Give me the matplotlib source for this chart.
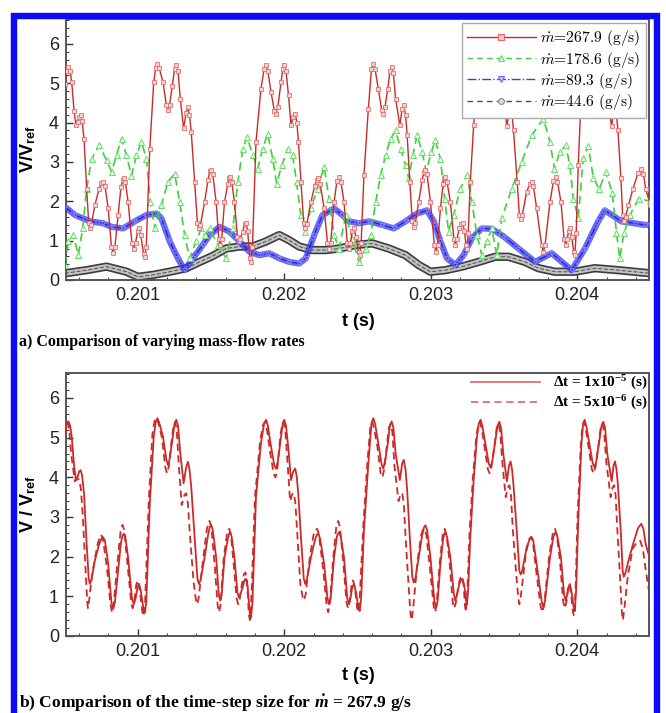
import matplotlib
matplotlib.use("Agg")
import matplotlib.pyplot as plt
from matplotlib.lines import Line2D
from matplotlib.patches import Rectangle
from matplotlib.ticker import MultipleLocator

plt.rcParams['mathtext.fontset'] = 'custom'
plt.rcParams['mathtext.rm'] = 'Liberation Serif'
plt.rcParams['mathtext.it'] = 'Liberation Serif:italic'
plt.rcParams['mathtext.bf'] = 'Liberation Serif:bold'
plt.rcParams['mathtext.bfit'] = 'Liberation Serif:bold:italic'
plt.rcParams['mathtext.sf'] = 'Liberation Sans:bold'

# ---------------- data: (t [s], V/Vref) ----------------
m267 = [
    (0.200503, 4.99), (0.200514, 5.30), (0.200526, 5.41), (0.200538, 5.30), (0.200549, 5.03),
    (0.200565, 4.30), (0.200578, 3.93), (0.200590, 4.02), (0.200600, 4.15), (0.200610, 4.18),
    (0.200620, 4.05), (0.200633, 3.59), (0.200651, 2.32), (0.200665, 1.45), (0.200673, 1.31),
    (0.200683, 1.40), (0.200707, 1.90), (0.200735, 2.30), (0.200752, 2.46), (0.200764, 2.49),
    (0.200776, 2.40), (0.200798, 1.82), (0.200820, 0.85), (0.200832, 0.68), (0.200844, 0.85),
    (0.200866, 1.65), (0.200885, 2.35), (0.200897, 2.54), (0.200905, 2.58), (0.200915, 2.50),
    (0.200934, 1.98), (0.200960, 0.95), (0.200973, 0.80), (0.200985, 0.95), (0.201000, 1.25),
    (0.201009, 1.31), (0.201020, 1.15), (0.201040, 0.66), (0.201048, 0.59), (0.201058, 0.85),
    (0.201082, 3.34), (0.201109, 5.03), (0.201122, 5.38), (0.201134, 5.49), (0.201146, 5.38),
    (0.201172, 5.03), (0.201195, 4.45), (0.201206, 4.31), (0.201217, 4.45), (0.201236, 4.94),
    (0.201251, 5.35), (0.201263, 5.45), (0.201275, 5.30), (0.201290, 4.61), (0.201313, 3.85),
    (0.201330, 4.25), (0.201342, 4.39), (0.201353, 4.20), (0.201365, 3.76), (0.201388, 2.49),
    (0.201407, 1.45), (0.201417, 1.31), (0.201428, 1.40), (0.201456, 1.98), (0.201480, 2.55),
    (0.201492, 2.76), (0.201501, 2.80), (0.201512, 2.68), (0.201535, 1.98), (0.201553, 1.05),
    (0.201563, 0.89), (0.201573, 1.05), (0.201592, 1.98), (0.201615, 2.45), (0.201623, 2.58),
    (0.201631, 2.62), (0.201641, 2.50), (0.201660, 1.98), (0.201680, 1.10), (0.201689, 0.98),
    (0.201700, 1.05), (0.201716, 1.23), (0.201730, 1.42), (0.201739, 1.44), (0.201750, 1.25),
    (0.201765, 0.55), (0.201773, 0.46), (0.201783, 0.85), (0.201807, 3.51), (0.201841, 4.86),
    (0.201862, 5.35), (0.201876, 5.45), (0.201888, 5.30), (0.201910, 4.77), (0.201932, 4.30),
    (0.201944, 4.22), (0.201956, 4.40), (0.201978, 5.03), (0.201990, 5.36), (0.202000, 5.45),
    (0.202012, 5.30), (0.202029, 4.69), (0.202046, 3.93), (0.202062, 4.15), (0.202075, 4.22),
    (0.202086, 4.00), (0.202097, 3.51), (0.202114, 2.49), (0.202133, 1.45), (0.202143, 1.31),
    (0.202154, 1.42), (0.202182, 1.98), (0.202208, 2.40), (0.202222, 2.55), (0.202233, 2.58),
    (0.202245, 2.45), (0.202272, 1.82), (0.202295, 0.95), (0.202306, 0.80), (0.202317, 0.95),
    (0.202340, 1.98), (0.202360, 2.52), (0.202374, 2.62), (0.202386, 2.50), (0.202408, 1.98),
    (0.202430, 0.95), (0.202442, 0.80), (0.202452, 0.95), (0.202465, 1.25), (0.202476, 1.31),
    (0.202490, 1.10), (0.202507, 0.70), (0.202515, 0.63), (0.202525, 0.95), (0.202544, 2.66),
    (0.202574, 4.35), (0.202595, 5.35), (0.202608, 5.49), (0.202620, 5.35), (0.202642, 4.86),
    (0.202665, 4.32), (0.202676, 4.22), (0.202688, 4.40), (0.202707, 4.86), (0.202721, 5.30),
    (0.202733, 5.41), (0.202745, 5.25), (0.202760, 4.61), (0.202789, 3.93), (0.202805, 4.35),
    (0.202816, 4.44), (0.202828, 4.20), (0.202839, 3.68), (0.202857, 2.49), (0.202874, 1.50),
    (0.202884, 1.35), (0.202895, 1.45), (0.202918, 1.98), (0.202942, 2.55), (0.202954, 2.74),
    (0.202964, 2.79), (0.202975, 2.68), (0.202998, 1.98), (0.203025, 0.88), (0.203036, 0.72),
    (0.203047, 0.88), (0.203066, 1.82), (0.203085, 2.45), (0.203093, 2.58), (0.203100, 2.62),
    (0.203111, 2.50), (0.203134, 1.98), (0.203158, 1.05), (0.203168, 0.89), (0.203180, 1.05),
    (0.203195, 1.31), (0.203208, 1.42), (0.203218, 1.44), (0.203230, 1.25), (0.203240, 0.90),
    (0.203247, 0.80), (0.203256, 1.20), (0.203270, 2.49), (0.203293, 3.93), (0.203315, 5.00),
    (0.203328, 5.35), (0.203340, 5.45), (0.203352, 5.30), (0.203375, 4.80), (0.203396, 4.35),
    (0.203408, 4.25), (0.203420, 4.40), (0.203440, 4.90), (0.203456, 5.30), (0.203468, 5.40),
    (0.203480, 5.25), (0.203495, 4.60), (0.203520, 3.90), (0.203535, 4.30), (0.203545, 4.40),
    (0.203555, 4.20), (0.203565, 3.80), (0.203590, 2.50), (0.203605, 1.65), (0.203614, 1.55),
    (0.203625, 1.65), (0.203655, 2.24), (0.203677, 2.45), (0.203689, 2.49), (0.203700, 2.40),
    (0.203723, 1.82), (0.203757, 0.88), (0.203769, 0.72), (0.203780, 0.88), (0.203814, 1.98),
    (0.203838, 2.52), (0.203853, 2.62), (0.203865, 2.50), (0.203889, 1.98), (0.203910, 1.05),
    (0.203921, 0.89), (0.203932, 1.05), (0.203942, 1.25), (0.203950, 1.31), (0.203962, 1.10),
    (0.203976, 0.72), (0.203984, 0.63), (0.203993, 1.20), (0.204007, 2.92), (0.204029, 4.86),
    (0.204040, 5.32), (0.204050, 5.45), (0.204062, 5.30), (0.204085, 4.80), (0.204106, 4.35),
    (0.204118, 4.25), (0.204130, 4.40), (0.204150, 4.90), (0.204166, 5.30), (0.204178, 5.40),
    (0.204190, 5.25), (0.204205, 4.60), (0.204235, 3.90), (0.204248, 4.30), (0.204258, 4.40),
    (0.204268, 4.20), (0.204278, 3.80), (0.204298, 2.60), (0.204310, 1.65), (0.204318, 1.49),
    (0.204330, 1.60), (0.204350, 1.90), (0.204381, 2.32), (0.204415, 2.72), (0.204437, 2.83),
    (0.204452, 2.70), (0.204467, 2.32), (0.204500, 1.90),
]

m178 = [
    (0.200503, 0.38), (0.200526, 0.98), (0.200560, 1.14), (0.200594, 0.63), (0.200624, 1.31),
    (0.200651, 2.32), (0.200685, 3.08), (0.200737, 3.42), (0.200787, 3.04), (0.200821, 2.75),
    (0.200855, 3.17), (0.200889, 3.59), (0.200923, 3.17), (0.200957, 2.65), (0.200991, 3.17),
    (0.201025, 3.51), (0.201059, 3.08), (0.201086, 1.98), (0.201116, 1.31), (0.201161, 1.90),
    (0.201206, 2.49), (0.201252, 2.70), (0.201286, 1.98), (0.201320, 1.14), (0.201354, 0.55),
    (0.201399, 0.98), (0.201433, 1.31), (0.201456, 1.14), (0.201490, 1.31), (0.201547, 0.89),
    (0.201603, 0.55), (0.201649, 1.31), (0.201683, 2.49), (0.201717, 3.34), (0.201746, 3.63),
    (0.201785, 3.17), (0.201819, 2.83), (0.201853, 3.34), (0.201887, 3.72), (0.201921, 3.08),
    (0.201948, 2.45), (0.201984, 2.92), (0.202023, 3.34), (0.202057, 3.17), (0.202084, 2.49),
    (0.202113, 1.65), (0.202143, 1.23), (0.202182, 1.82), (0.202227, 2.32), (0.202272, 2.87),
    (0.202306, 2.07), (0.202340, 1.14), (0.202374, 0.80), (0.202420, 1.65), (0.202465, 1.05),
    (0.202510, 0.46), (0.202556, 0.80), (0.202590, 1.14), (0.202624, 1.98), (0.202658, 2.66),
    (0.202692, 3.17), (0.202726, 3.59), (0.202760, 3.80), (0.202794, 3.34), (0.202828, 2.92),
    (0.202850, 2.58), (0.202878, 3.17), (0.202907, 3.68), (0.202941, 3.25), (0.202969, 2.75),
    (0.203004, 3.25), (0.203031, 3.55), (0.203066, 3.08), (0.203095, 2.07), (0.203122, 1.23),
    (0.203156, 1.65), (0.203202, 2.32), (0.203247, 2.66), (0.203281, 1.98), (0.203315, 1.14),
    (0.203349, 0.63), (0.203383, 0.98), (0.203417, 1.31), (0.203451, 0.63), (0.203485, 1.57),
    (0.203553, 2.32), (0.203621, 3.00), (0.203690, 3.68), (0.203769, 4.10), (0.203814, 3.51),
    (0.203844, 2.83), (0.203882, 3.25), (0.203921, 3.42), (0.203950, 2.92), (0.203973, 2.07),
    (0.204007, 1.57), (0.204041, 3.10), (0.204075, 3.40), (0.204110, 2.60), (0.204150, 2.30),
    (0.204195, 2.75), (0.204240, 2.20), (0.204268, 1.20), (0.204290, 0.55), (0.204320, 1.20),
    (0.204360, 1.65), (0.204420, 2.07), (0.204500, 2.00),
]

m89 = [
    (0.200503, 1.86), (0.200571, 1.65), (0.200674, 1.49), (0.200764, 1.44), (0.200821, 1.35),
    (0.200900, 1.31), (0.200979, 1.49), (0.201059, 1.65), (0.201127, 1.69), (0.201161, 1.57),
    (0.201218, 0.98), (0.201274, 0.55), (0.201320, 0.25), (0.201376, 0.55), (0.201444, 0.89),
    (0.201490, 1.14), (0.201558, 1.35), (0.201626, 1.23), (0.201694, 0.98), (0.201762, 0.72),
    (0.201830, 0.63), (0.201898, 0.68), (0.201966, 0.55), (0.202034, 0.46), (0.202102, 0.42),
    (0.202147, 0.55), (0.202204, 1.14), (0.202261, 1.65), (0.202317, 1.77), (0.202340, 1.82),
    (0.202397, 1.65), (0.202442, 1.49), (0.202510, 1.44), (0.202578, 1.49), (0.202669, 1.40),
    (0.202748, 1.31), (0.202828, 1.49), (0.202907, 1.69), (0.202975, 1.77), (0.203020, 1.49),
    (0.203066, 0.98), (0.203111, 0.55), (0.203168, 0.38), (0.203224, 0.63), (0.203281, 1.06),
    (0.203349, 1.31), (0.203417, 1.30), (0.203500, 1.10), (0.203599, 0.80), (0.203712, 0.46),
    (0.203826, 0.68), (0.203962, 0.25), (0.204053, 0.80), (0.204143, 1.49), (0.204188, 1.77),
    (0.204301, 1.49), (0.204460, 1.40), (0.204500, 1.40),
]

m44 = [
    (0.200503, 0.17), (0.200651, 0.25), (0.200787, 0.34), (0.200923, 0.21), (0.201002, 0.08),
    (0.201104, 0.13), (0.201218, 0.21), (0.201331, 0.30), (0.201422, 0.46), (0.201512, 0.61),
    (0.201603, 0.80), (0.201694, 0.85), (0.201785, 0.85), (0.201876, 0.98), (0.201966, 1.14),
    (0.202034, 1.01), (0.202102, 0.85), (0.202193, 0.76), (0.202283, 0.76), (0.202374, 0.80),
    (0.202488, 0.89), (0.202601, 0.93), (0.202714, 0.80), (0.202828, 0.63), (0.202918, 0.38),
    (0.202998, 0.21), (0.203100, 0.25), (0.203213, 0.34), (0.203327, 0.46), (0.203440, 0.59),
    (0.203531, 0.59), (0.203644, 0.46), (0.203735, 0.30), (0.203848, 0.21), (0.203984, 0.21),
    (0.204120, 0.30), (0.204279, 0.25), (0.204500, 0.17),
]

# panel b: dt = 1e-5 s is the 267.9 g/s run above; dt = 5e-6 s below
dt5 = [
    (0.200503, 5.20), (0.200512, 5.38), (0.200520, 5.45), (0.200530, 5.30), (0.200545, 4.60),
    (0.200570, 3.90), (0.200585, 3.95), (0.200600, 3.95), (0.200612, 3.70), (0.200625, 3.00),
    (0.200645, 1.60), (0.200655, 0.85), (0.200660, 0.70), (0.200668, 0.90), (0.200690, 1.60),
    (0.200725, 2.30), (0.200740, 2.50), (0.200750, 2.55), (0.200762, 2.45), (0.200790, 1.70),
    (0.200815, 0.75), (0.200825, 0.60), (0.200835, 0.78), (0.200860, 1.80), (0.200882, 2.62),
    (0.200895, 2.80), (0.200907, 2.68), (0.200925, 2.00), (0.200955, 0.85), (0.200965, 0.70),
    (0.200975, 0.85), (0.200990, 1.30), (0.201000, 1.40), (0.201012, 1.20), (0.201032, 0.58),
    (0.201040, 0.50), (0.201050, 0.85), (0.201075, 3.40), (0.201100, 5.10), (0.201115, 5.42),
    (0.201128, 5.50), (0.201140, 5.38), (0.201165, 5.00), (0.201188, 4.25), (0.201200, 4.10),
    (0.201212, 4.28), (0.201230, 4.90), (0.201244, 5.30), (0.201255, 5.40), (0.201266, 5.20),
    (0.201280, 4.30), (0.201300, 3.30), (0.201318, 3.55), (0.201330, 3.60), (0.201342, 3.35),
    (0.201355, 2.60), (0.201380, 1.40), (0.201397, 0.90), (0.201405, 0.80), (0.201415, 0.95),
    (0.201445, 1.90), (0.201470, 2.65), (0.201482, 2.86), (0.201490, 2.90), (0.201502, 2.75),
    (0.201525, 1.80), (0.201545, 0.78), (0.201555, 0.60), (0.201565, 0.78), (0.201585, 1.90),
    (0.201608, 2.55), (0.201618, 2.68), (0.201625, 2.70), (0.201636, 2.55), (0.201655, 1.80),
    (0.201675, 0.95), (0.201685, 0.80), (0.201697, 0.95), (0.201710, 1.30), (0.201725, 1.56),
    (0.201735, 1.60), (0.201746, 1.40), (0.201758, 0.55), (0.201765, 0.40), (0.201774, 0.80),
    (0.201800, 3.50), (0.201835, 4.90), (0.201855, 5.32), (0.201868, 5.40), (0.201880, 5.25),
    (0.201905, 4.60), (0.201928, 4.08), (0.201940, 4.00), (0.201952, 4.20), (0.201972, 5.00),
    (0.201985, 5.32), (0.201995, 5.40), (0.202007, 5.20), (0.202022, 4.40), (0.202040, 3.40),
    (0.202055, 3.58), (0.202065, 3.60), (0.202076, 3.35), (0.202090, 2.50), (0.202110, 1.30),
    (0.202127, 0.95), (0.202135, 0.90), (0.202146, 1.05), (0.202175, 2.00), (0.202200, 2.55),
    (0.202213, 2.68), (0.202225, 2.70), (0.202237, 2.55), (0.202265, 1.70), (0.202290, 0.75),
    (0.202300, 0.60), (0.202310, 0.78), (0.202335, 2.00), (0.202355, 2.75), (0.202368, 2.90),
    (0.202380, 2.75), (0.202402, 1.90), (0.202425, 0.85), (0.202435, 0.70), (0.202445, 0.85),
    (0.202460, 1.30), (0.202470, 1.40), (0.202483, 1.20), (0.202498, 0.70), (0.202505, 0.60),
    (0.202515, 0.95), (0.202540, 2.80), (0.202568, 4.40), (0.202588, 5.28), (0.202600, 5.40),
    (0.202612, 5.25), (0.202635, 4.80), (0.202658, 4.10), (0.202670, 4.00), (0.202682, 4.20),
    (0.202700, 4.80), (0.202714, 5.25), (0.202726, 5.35), (0.202738, 5.15), (0.202752, 4.30),
    (0.202780, 3.40), (0.202795, 3.58), (0.202805, 3.60), (0.202816, 3.35), (0.202828, 2.50),
    (0.202850, 1.20), (0.202862, 0.55), (0.202870, 0.40), (0.202880, 0.70), (0.202910, 1.90),
    (0.202935, 2.55), (0.202947, 2.68), (0.202958, 2.70), (0.202970, 2.55), (0.202992, 1.80),
    (0.203020, 0.75), (0.203030, 0.60), (0.203040, 0.78), (0.203060, 1.80), (0.203082, 2.55),
    (0.203090, 2.66), (0.203095, 2.70), (0.203107, 2.55), (0.203128, 1.90), (0.203150, 0.85),
    (0.203160, 0.70), (0.203172, 0.85), (0.203190, 1.30), (0.203202, 1.46), (0.203212, 1.50),
    (0.203224, 1.30), (0.203234, 0.75), (0.203240, 0.60), (0.203248, 0.95), (0.203265, 2.60),
    (0.203288, 4.00), (0.203310, 5.00), (0.203323, 5.30), (0.203335, 5.40), (0.203347, 5.25),
    (0.203370, 4.70), (0.203390, 4.20), (0.203402, 4.10), (0.203414, 4.25), (0.203435, 4.80),
    (0.203450, 5.25), (0.203462, 5.35), (0.203474, 5.15), (0.203488, 4.40), (0.203512, 3.50),
    (0.203527, 3.75), (0.203537, 3.80), (0.203548, 3.55), (0.203560, 2.70), (0.203585, 1.50),
    (0.203598, 0.95), (0.203605, 0.80), (0.203615, 1.00), (0.203650, 2.10), (0.203673, 2.45),
    (0.203685, 2.50), (0.203697, 2.38), (0.203718, 1.70), (0.203750, 0.75), (0.203762, 0.60),
    (0.203774, 0.78), (0.203808, 2.00), (0.203834, 2.60), (0.203848, 2.70), (0.203860, 2.55),
    (0.203882, 1.90), (0.203905, 0.85), (0.203915, 0.70), (0.203926, 0.85), (0.203937, 1.20),
    (0.203945, 1.30), (0.203957, 1.10), (0.203971, 0.60), (0.203978, 0.50), (0.203988, 1.10),
    (0.204002, 3.00), (0.204024, 4.80), (0.204035, 5.28), (0.204045, 5.40), (0.204057, 5.25),
    (0.204080, 4.70), (0.204100, 4.20), (0.204112, 4.10), (0.204124, 4.25), (0.204145, 4.80),
    (0.204160, 5.25), (0.204172, 5.35), (0.204184, 5.15), (0.204198, 4.40), (0.204228, 3.50),
    (0.204242, 3.75), (0.204252, 3.80), (0.204262, 3.55), (0.204272, 2.80), (0.204292, 1.50),
    (0.204305, 0.60), (0.204312, 0.40), (0.204322, 0.70), (0.204345, 1.50), (0.204378, 2.20),
    (0.204410, 2.38), (0.204430, 2.40), (0.204448, 2.20), (0.204470, 1.60), (0.204500, 0.90),
]

x_ticks = [0.201, 0.202, 0.203, 0.204]
x_tick_labels = ['0.201', '0.202', '0.203', '0.204']
y_ticks = [0, 1, 2, 3, 4, 5, 6]
labels_a = [r'$\dot{m}$=267.9 (g/s)', r'$\dot{m}$=178.6 (g/s)',
            r'$\dot{m}$=89.3 (g/s)', r'$\dot{m}$=44.6 (g/s)']
labels_b = [r'$\mathbf{\Delta}$t = 1x10$^{\mathbf{-5}}$ (s)',
            r'$\mathbf{\Delta}$t = 5x10$^{\mathbf{-6}}$ (s)']

t_267, v_267 = zip(*m267)
t_178, v_178 = zip(*m178)
t_89, v_89 = zip(*m89)
t_44, v_44 = zip(*m44)
t_dt5, v_dt5 = zip(*dt5)

# ---------------- figure ----------------
W, H = 666, 713
fig = plt.figure(figsize=(W / 100, H / 100), dpi=100)

RED = '#cc2a2a'
GREEN = '#3fcf3f'
BLUE = '#3a3af2'
GRAY = '#505050'

def px_axes(l, r, t, b):
    return fig.add_axes([l / W, 1 - b / H, (r - l) / W, (b - t) / H])

ax1 = px_axes(66, 649, 19, 280)
ax2 = px_axes(66, 649, 373, 636)

for ax in (ax1, ax2):
    ax.set_xlim(0.20051, 0.20449)
    ax.set_ylim(0, 6.63)
    ax.set_xticks(x_ticks)
    ax.set_xticklabels(x_tick_labels)
    ax.set_yticks(y_ticks)
    ax.xaxis.set_minor_locator(MultipleLocator(0.0002))
    ax.yaxis.set_minor_locator(MultipleLocator(0.2))
    ax.tick_params(which='both', direction='in', top=False, right=False, color='#333333')
    ax.tick_params(which='major', length=5, width=1.0, pad=5)
    ax.tick_params(which='minor', length=2.5, width=0.7)
    for lab in ax.get_xticklabels() + ax.get_yticklabels():
        lab.set_fontfamily(['Liberation Sans', 'DejaVu Sans'])
        lab.set_fontsize(13)
        lab.set_color('#222222')
    for s in ax.spines.values():
        s.set_color('#555555')
        s.set_linewidth(1.4)

# --- panel a ---
ax1.plot(t_44, v_44, color='#3c3c3c', lw=6.0, zorder=2, solid_capstyle='butt')
ax1.plot(t_44, v_44, color='#c4c4c4', lw=3.6, zorder=2.1)
ax1.plot(t_44, v_44, color='#5a5a5a', lw=0.8, ls='--', zorder=2.2)

ax1.plot(t_89, v_89, color=BLUE, lw=4.5, alpha=0.75, zorder=3, solid_capstyle='butt')
ax1.plot(t_89, v_89, color='#2323c8', lw=0.9, ls='-.', marker='v', ms=3,
         mfc='none', mec='#8a8aff', mew=0.6, zorder=3.1)

ax1.plot(t_178, v_178, color=GREEN, lw=1.2, ls=(0, (5, 3)), marker='^', ms=3.8,
         mfc='#e8ffe8', mec='#66dd66', mew=0.7, zorder=4)

ax1.plot(t_267, v_267, color=RED, lw=1.0, marker='s', ms=2.9,
         mfc='#f9d0d0', mec='#e27070', mew=0.6, zorder=5)

handles_a = [
    Line2D([], [], color=RED, lw=1.0, marker='s', ms=3.8, mfc='#f7c4c4', mec='#e26a6a', mew=0.8),
    Line2D([], [], color=GREEN, lw=1.0, ls=(0, (4, 3)), marker='^', ms=4.2, mfc='#e8ffe8', mec='#66dd66', mew=0.8),
    Line2D([], [], color='#3a3aee', lw=1.0, ls='-.', marker='v', ms=4, mfc='#c8c8ff', mec='#6a6aff', mew=0.8),
    Line2D([], [], color=GRAY, lw=1.0, ls=(0, (4, 3)), marker='o', ms=4.2, mfc='#dddddd', mec='#888888', mew=0.8),
]
leg = ax1.legend(handles_a, labels_a, loc='upper right', bbox_to_anchor=(0.995, 0.985),
                 prop=dict(family='cmr10', size=11.2), numpoints=1,
                 handlelength=4.4, handletextpad=0.3, labelspacing=0.08,
                 borderpad=0.35, borderaxespad=0.0, frameon=True, fancybox=False, framealpha=1.0)
for txt in leg.get_texts():
    txt.set_math_fontfamily('cm')
leg.get_frame().set_edgecolor('#aaaaaa')
leg.get_frame().set_linewidth(1.0)
leg.set_zorder(10)

# --- panel b ---
ax2.plot(t_267, v_267, color=RED, lw=1.3, zorder=3)
ax2.plot(t_dt5, v_dt5, color=RED, lw=1.3, ls=(0, (4, 2.5)), zorder=2)
handles_b = [Line2D([], [], color='#e07070', lw=1.3),
             Line2D([], [], color='#e07070', lw=1.3, ls=(0, (4, 2.5)))]
leg2 = ax2.legend(handles_b, labels_b, loc='upper right', bbox_to_anchor=(0.997, 0.997),
                  prop=dict(family='Liberation Serif', size=11, weight='bold'),
                  handlelength=4.5, handletextpad=0.85, labelspacing=0.12,
                  frameon=False, borderpad=0.0, borderaxespad=0.0)

# --- axis labels and captions ---
sans_b = dict(family=['Liberation Sans', 'DejaVu Sans'], weight='bold', size=13)
fig.text(358 / W, 1 - 321 / H, 't (s)', ha='center', va='center', **sans_b)
fig.text(358 / W, 1 - 675 / H, 't (s)', ha='center', va='center', **sans_b)
fig.text(28 / W, 1 - 149 / H, r'V/V$_{\mathsf{ref}}$', ha='center', va='center', rotation=90, **sans_b)
fig.text(28 / W, 1 - 504 / H, r'V / V$_{\mathsf{ref}}$', ha='center', va='center', rotation=90, **sans_b)

serif_b = dict(family=['Liberation Serif', 'DejaVu Serif'], weight='bold')
fig.text(19 / W, 1 - 342 / H, 'a) Comparison of varying mass-flow rates', ha='left', va='center',
         size=11.5, **serif_b)
fig.text(19 / W, 1 - 703.5 / H, r'b) Comparison of the time-step size for $\mathbfit{\dot{m}}$ = 267.9 g/s',
         ha='left', va='center', size=12.6, **serif_b)

# --- blue frame ---
fig.add_artist(Rectangle((13.5 / W, -0.05), (657 - 13.5) / W, (H - 15.5) / H + 0.05,
                         transform=fig.transFigure, fill=False, edgecolor='#0a0af5',
                         linewidth=4.6, zorder=20, clip_on=False))

fig.savefig('out.png', dpi=100)
